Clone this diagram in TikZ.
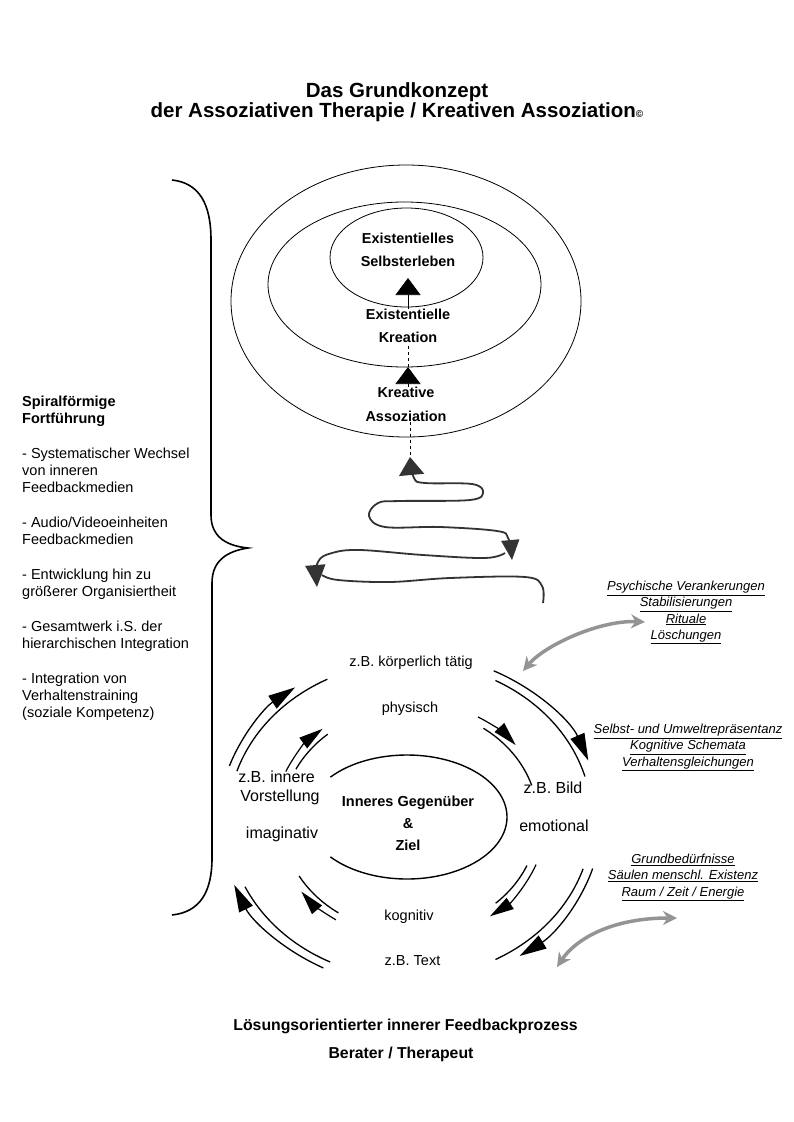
\documentclass[tikz,border=0pt]{standalone}
\usepackage{fontspec}
\setmainfont{Liberation Sans}
\usetikzlibrary{arrows.meta, shapes.geometric}

\begin{document}
\begin{tikzpicture}[x=1pt, y=-1pt,
        heading/.style={font=\fontsize{20.5}{20}\selectfont\bfseries, inner sep=0pt, anchor=base},
        stage/.style={font=\fontsize{14.4}{23.5}\selectfont\bfseries, align=center, inner sep=0pt},
        level/.style={draw, ellipse, line width=0.8pt, inner sep=0pt},
        mode/.style={font=\fontsize{14.5}{17}\selectfont, inner sep=0pt, anchor=base},
        bigmode/.style={font=\fontsize{16}{19}\selectfont, inner sep=0pt, anchor=base},
        note/.style={font=\fontsize{13}{16.2}\selectfont\itshape, align=center, inner sep=0pt, anchor=north},
        footer/.style={font=\fontsize{15.8}{19}\selectfont\bfseries, inner sep=0pt, anchor=base},
        rise/.style={line width=0.6pt, -{Triangle[width=25pt, length=17pt]}},
        coil/.style={line width=1.8pt, black!80},
        ring/.style={line width=1.3pt},
        outerflow/.style={line width=1.3pt, -{Triangle[width=15pt, length=27pt]}},
        innerflow/.style={line width=1.2pt, -{Triangle[width=13pt, length=24pt]}},
        link/.style={line width=3.5pt, black!42, {Stealth[width=14pt, length=14pt]}-{Stealth[width=14pt, length=14pt]}}
    ]
        \useasboundingbox (0,0) rectangle (793,1122);

        \node [heading] (title1) at (397,97) {Das Grundkonzept};
        \node [heading] (title2) at (397,117) {der Assoziativen Therapie / Kreativen Assoziation{\fontsize{10}{10}\selectfont ©}};

        % levels
        \node [level, minimum width=350pt, minimum height=272pt] (outer) at (406,301) {};
        \node [level, minimum width=273pt, minimum height=165pt] (middle) at (404.5,284.5) {};
        \node [level, minimum width=153pt, minimum height=99pt] (inner) at (406.5,257.5) {};

        \node [stage] (selbst) at (408,250) {Existentielles\\Selbsterleben};
        \node [stage] (kreation) at (408,326) {Existentielle\\Kreation};
        \node [stage] (assoz) at (406,404.5) {Kreative\\Assoziation};

        \coordinate (tip1) at (408,278);
        \coordinate (tip2) at (408,367);
        \coordinate (tip3) at (410,457);

        \draw [rise] (kreation.north) -- (tip1);
        \draw [rise] (tip2 |- assoz.north) -- (tip2);
        \draw [line width=0.5pt, dashed] (tip2) -- (tip2 |- kreation.south);
        \draw [line width=0.5pt, dashed] (tip3 |- assoz.south) -- (tip3);

        % spiral
        \coordinate (coilR) at (512,560);
        \coordinate (coilL) at (317,587);
        \coordinate (coilB) at (543,603);

        \draw [coil, {Triangle[width=18pt, length=20pt]}-{Triangle[width=25pt, length=18pt]}] plot [smooth, tension=0.6] coordinates {(coilR) (508,538) (497,531) (440,527) (385,527) (369,516) (378,503) (400,501) (470,500) (483,492) (472,484) (425,483) (414,478) (tip3)};
        \draw [coil, {Triangle[width=20pt, length=22pt]}-] plot [smooth, tension=0.6] coordinates {(coilL) (318,562) (332,553) (360,550) (423,555) (485,558) (505,553)};
        \draw [coil] plot [smooth, tension=0.6] coordinates {(coilB) (542,586) (525,577) (450,578) (390,582) (338,580) (322,575)};

        % brace
        \draw [line width=1.6pt] (172,180) .. controls (200,183) and (211,205) .. (211,240) -- (211,515) .. controls (211,538) and (228,546) .. (248,548) .. controls (228,551) and (212,560) .. (212,583) -- (212,858) .. controls (212,892) and (200,912) .. (172,915);

        \node [anchor=north west, align=left, inner sep=0pt, font=\fontsize{14.5}{17}\selectfont] (spiral) at (22,396) {\textbf{Spiralförmige}\\\textbf{Fortführung}\\[18pt]- Systematischer Wechsel\\von inneren\\Feedbackmedien\\[18pt]- Audio/Videoeinheiten\\Feedbackmedien\\[18pt]- Entwicklung hin zu\\größerer Organisiertheit\\[18pt]- Gesamtwerk i.S. der\\hierarchischen Integration\\[18pt]- Integration von\\Verhaltenstraining\\(soziale Kompetenz)};

        % feedback circle
        \coordinate (hub) at (410,820);
        \coordinate (goalc) at (407,817);

        \node [mode] (koerper) at (411,666) {z.B. körperlich tätig};
        \node [mode] (physisch) at (410,712) {physisch};
        \node [bigmode] (innere) at (276.5,782) {z.B. innere};
        \node [bigmode] (vorst) at (280,801) {Vorstellung};
        \node [bigmode] (imag) at (282,838) {imaginativ};
        \node [bigmode] (bild) at (553,793) {z.B. Bild};
        \node [bigmode] (emot) at (554,831) {emotional};
        \node [mode] (kogn) at (409,920) {kognitiv};
        \node [mode] (ztext) at (412.5,965) {z.B. Text};
        \node [stage, font=\fontsize{14.5}{22}\selectfont\bfseries] (goal) at (408,823) {Inneres Gegenüber\\\&\\Ziel};

        \draw [line width=1.4pt] ([shift={(-140:100 and 62)}]goalc) arc [start angle=-140, end angle=140, x radius=100, y radius=62];

        \draw [ring] ([shift={(198:182 and 158)}]hub) arc [start angle=198, end angle=243, x radius=182, y radius=158];
        \draw [ring] ([shift={(298:182 and 158)}]hub) arc [start angle=298, end angle=344, x radius=182, y radius=158];
        \draw [ring] ([shift={(18:182 and 158)}]hub) arc [start angle=18, end angle=62, x radius=182, y radius=158];
        \draw [ring] ([shift={(116:182 and 158)}]hub) arc [start angle=116, end angle=155, x radius=182, y radius=158];

        \draw [outerflow] ([shift={(199:191 and 166)}]hub) arc [start angle=199, end angle=233, x radius=191, y radius=166];
        \draw [outerflow] ([shift={(296:191 and 166)}]hub) arc [start angle=296, end angle=339, x radius=191, y radius=166];
        \draw [outerflow] ([shift={(17:191 and 166)}]hub) arc [start angle=17, end angle=55, x radius=191, y radius=166];
        \draw [outerflow] ([shift={(117:191 and 166)}]hub) arc [start angle=117, end angle=157, x radius=191, y radius=166];

        \draw [ring] ([shift={(207:128 and 112)}]hub) arc [start angle=207, end angle=230, x radius=128, y radius=112];
        \draw [ring] ([shift={(305:128 and 112)}]hub) arc [start angle=305, end angle=342, x radius=128, y radius=112];
        \draw [ring] ([shift={(24:128 and 112)}]hub) arc [start angle=24, end angle=48, x radius=128, y radius=112];
        \draw [ring] ([shift={(124:128 and 112)}]hub) arc [start angle=124, end angle=150, x radius=128, y radius=112];

        \draw [innerflow] ([shift={(204:136 and 119)}]hub) arc [start angle=204, end angle=230, x radius=136, y radius=119];
        \draw [innerflow] ([shift={(300:136 and 119)}]hub) arc [start angle=300, end angle=321, x radius=136, y radius=119];
        \draw [innerflow] ([shift={(22:136 and 119)}]hub) arc [start angle=22, end angle=54, x radius=136, y radius=119];
        \draw [innerflow] ([shift={(123:136 and 119)}]hub) arc [start angle=123, end angle=143, x radius=136, y radius=119];

        % resources
        \node [note] (anchors) at (686,581) {\underline{Psychische Verankerungen}\\\underline{Stabilisierungen}\\\underline{Rituale}\\\underline{Löschungen}};
        \node [note] (schemata) at (688,724) {\underline{Selbst- und Umweltrepräsentanz}\\\underline{Kognitive Schemata}\\\underline{Verhaltensgleichungen}};
        \node [note] (needs) at (683,854) {\underline{Grundbedürfnisse}\\\underline{Säulen menschl. Existenz}\\\underline{Raum / Zeit / Energie}};

        \coordinate (anchorA) at (523,671);
        \coordinate (anchorB) at (645,622);
        \coordinate (needA) at (557,967);
        \coordinate (needB) at (677,918);

        \draw [link] (anchorA) .. controls (545,645) and (600,620) .. (anchorB);
        \draw [link] (needA) .. controls (575,940) and (610,918) .. (needB);

        \node [footer] (process) at (405.5,1030) {Lösungsorientierter innerer Feedbackprozess};
        \node [footer] (berater) at (401,1058) {Berater / Therapeut};
    \end{tikzpicture}
\end{document}
